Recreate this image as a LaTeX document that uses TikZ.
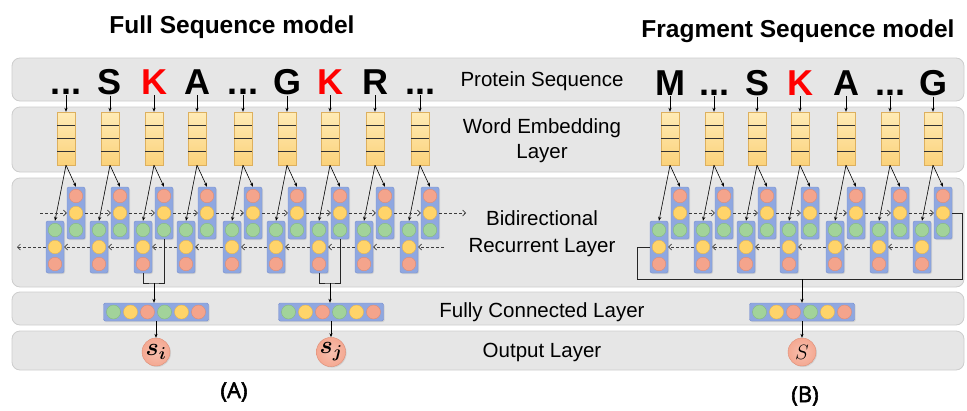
\documentclass[tikz,border=0pt]{standalone}
\usepackage{fontspec}
\setmainfont{Liberation Sans}
\newfontfamily\capfont[FakeBold=2.5]{Open Sans}
\usepackage{amsmath}
\usepackage{bm}
\usetikzlibrary{arrows.meta,shadows}
\definecolor{bandfill}{HTML}{E6E6E6}
\definecolor{bandline}{HTML}{CDCDCD}
\definecolor{embtop}{HTML}{FFEBB6}
\definecolor{embbot}{HTML}{FBD27A}
\definecolor{embline}{HTML}{DDB05E}
\definecolor{cellfill}{HTML}{8FA7E0}
\definecolor{cellline}{HTML}{7890CF}
\definecolor{redfill}{HTML}{F4A48C}
\definecolor{redline}{HTML}{DE8C74}
\definecolor{yelfill}{HTML}{FFD46A}
\definecolor{yelline}{HTML}{E7B64E}
\definecolor{grnfill}{HTML}{A2D39A}
\definecolor{grnline}{HTML}{85B97E}
\definecolor{dashcol}{HTML}{3C3C3C}
\definecolor{aared}{HTML}{FF0000}
\newcommand{\tdots}{...}
\begin{document}
\begin{tikzpicture}[x=1pt,y=-1pt,
  band/.style={draw=bandline, fill=bandfill, rounded corners=8pt, line width=0.8pt, minimum width=952pt, inner sep=0pt},
  lbl/.style={font=\fontsize{20.5}{24}\selectfont, align=center, text=black, inner sep=0pt},
  ttl/.style={font=\fontsize{24.5}{28}\selectfont\bfseries, anchor=base, inner sep=0pt},
  captxt/.style={font=\capfont\fontsize{22}{26}\selectfont, inner sep=0pt},
  aa/.style={font=\fontsize{36}{40}\selectfont\bfseries, anchor=base, inner sep=1pt},
  emb/.style={draw=embline, top color=embtop, bottom color=embbot, minimum width=18pt, minimum height=53pt, inner sep=0pt,
     drop shadow={opacity=0.2, shadow xshift=1pt, shadow yshift=-1pt}},
  embsep/.style={line width=0.8pt, draw=black!80},
  cellbox/.style={draw=cellline, fill=cellfill, rounded corners=2pt, minimum width=18pt, minimum height=52pt, inner sep=0pt,
     drop shadow={opacity=0.2, shadow xshift=1pt, shadow yshift=-1pt}},
  fcbox/.style={draw=cellline, fill=cellfill, rounded corners=1.5pt, minimum width=105pt, minimum height=18pt, inner sep=0pt,
     drop shadow={opacity=0.2, shadow xshift=1pt, shadow yshift=-1pt}},
  dotr/.style={circle, draw=redline, fill=redfill, minimum size=13.5pt, inner sep=0pt},
  doty/.style={circle, draw=yelline, fill=yelfill, minimum size=13.5pt, inner sep=0pt},
  dotg/.style={circle, draw=grnline, fill=grnfill, minimum size=13.5pt, inner sep=0pt},
  outc/.style={circle, draw=redline, inner color=redfill!70, outer color=redfill!100!black!95, minimum size=28pt, inner sep=0pt,
     drop shadow={opacity=0.2, shadow xshift=1pt, shadow yshift=-1pt}},
  arr/.style={-{Stealth[length=4pt,width=3.2pt]}, line width=0.6pt, draw=black},
  conn/.style={line width=0.8pt, draw=black!85},
  darr/.style={dash pattern=on 3pt off 2pt, -{Straight Barb[length=3pt,width=6pt]}, line width=0.7pt, draw=dashcol},
]
\useasboundingbox (0,0) rectangle (967,410);

% bands
\node[band, minimum height=43pt] (band1) at (488,79.5) {};
\node[band, minimum height=65pt] (band2) at (488,139.5) {};
\node[band, minimum height=109pt] (band3) at (488,232.5) {};
\node[band, minimum height=33pt] (band4) at (488,308.5) {};
\node[band, minimum height=39pt] (band5) at (488,350.5) {};

% titles and captions
\node[ttl] (t1) at (232,33) {Full Sequence model};
\node[ttl] (t2) at (798,37) {Fragment Sequence model};
\node[captxt] (capA) at (234,392) {(A)};
\node[captxt] (capB) at (805,396) {(B)};

% layer labels
\node[lbl] (l1) at (542,81) {Protein Sequence};
\node[lbl] (l2) at (542,141) {Word Embedding\\[1pt]Layer};
\node[lbl] (l3) at (542,233.5) {Bidirectional\\[3pt]Recurrent Layer};
\node[lbl] (l4) at (542,312) {Fully Connected Layer};
\node[lbl] (l5) at (542,352) {Output Layer};

% ---------- left (full sequence) ----------
\foreach \x/\ltr/\c [count=\i] in {66/\tdots/black,110/S/black,154/K/aared,197/A/black,243/\tdots/black,287/G/black,330/K/aared,375/R/black,420/\tdots/black}{
  \node[aa, text=\c] (sL\i) at (\x,94) {\ltr};
  \node[emb] (eL\i) at (\x,138.5) {};
  \draw[embsep] (\x-9,125.25) -- (\x+9,125.25) (\x-9,138.5) -- (\x+9,138.5) (\x-9,151.75) -- (\x+9,151.75);
  \node[cellbox] (uL\i) at (\x+10,213) {};
  \node[dotr] (uL\i a) at (\x+10,196) {};
  \node[doty] (uL\i b) at (\x+10,213) {};
  \node[dotg] (uL\i c) at (\x+10,230) {};
  \node[cellbox] (lL\i) at (\x-11,247) {};
  \node[dotg] (lL\i a) at (\x-11,230) {};
  \node[doty] (lL\i b) at (\x-11,247) {};
  \node[dotr] (lL\i c) at (\x-11,264) {};
  \draw[arr] (sL\i.south) -- (eL\i.north);
  \draw[arr] (eL\i.south) -- (uL\i.north);
  \draw[arr] (eL\i.south) -- (lL\i.north);
}
\coordinate (fwdL0) at (40,213);
\coordinate (fwdLe) at (466,213);
\coordinate (bwdL0) at (444,247);
\coordinate (bwdLe) at (17,247);
\draw[darr] (fwdL0) -- (uL1.west);
\foreach \i [evaluate=\i as \j using int(\i+1)] in {1,...,8}{
  \draw[darr] (uL\i.east) -- (uL\j.west);
  \draw[darr] (lL\j.west) -- (lL\i.east);
}
\draw[darr] (uL9.east) -- (fwdLe);
\draw[darr] (bwdL0) -- (lL9.east);
\draw[darr] (lL1.west) -- (bwdLe);

% fully connected + output (left)
\foreach \n/\x in {1/156,2/331}{
  \node[fcbox] (fc\n) at (\x,312) {};
  \foreach \k/\s in {1/dotg,2/doty,3/dotr,4/dotg,5/doty,6/dotr}{
    \node[\s, minimum size=14pt] (fc\n d\k) at (\x-59.5+17*\k,312) {};
  }
}
\node[outc] (o1) at (156,352) {\fontsize{25}{25}\selectfont$\bm{s_i}$};
\node[outc] (o2) at (331,352) {\fontsize{25}{25}\selectfont$\bm{s_j}$};

\coordinate (mA) at (154,283);
\coordinate (mB) at (330,283);
\draw[conn] (lL3.south) |- (mA) -| (uL3.south);
\draw[conn] (lL7.south) |- (mB) -| (uL7.south);
\draw[arr] (mA) -- (mA |- fc1.north);
\draw[arr] (mB) -- (mB |- fc2.north);
\draw[arr] (fc1.south) -- (o1.north);
\draw[arr] (fc2.south) -- (o2.north);

% ---------- right (fragment sequence) ----------
\foreach \x/\ltr/\c [count=\i] in {670/M/black,714/\tdots/black,757/S/black,800/K/aared,846/A/black,890/\tdots/black,933/G/black}{
  \node[aa, text=\c] (sR\i) at (\x,95) {\ltr};
  \node[emb] (eR\i) at (\x,138.5) {};
  \draw[embsep] (\x-9,125.25) -- (\x+9,125.25) (\x-9,138.5) -- (\x+9,138.5) (\x-9,151.75) -- (\x+9,151.75);
  \node[cellbox] (uR\i) at (\x+10,213) {};
  \node[dotr] (uR\i a) at (\x+10,196) {};
  \node[doty] (uR\i b) at (\x+10,213) {};
  \node[dotg] (uR\i c) at (\x+10,230) {};
  \node[cellbox] (lR\i) at (\x-11,247) {};
  \node[dotg] (lR\i a) at (\x-11,230) {};
  \node[doty] (lR\i b) at (\x-11,247) {};
  \node[dotr] (lR\i c) at (\x-11,264) {};
  \draw[arr] (sR\i.south) -- (eR\i.north);
  \draw[arr] (eR\i.south) -- (uR\i.north);
  \draw[arr] (eR\i.south) -- (lR\i.north);
}
\foreach \i [evaluate=\i as \j using int(\i+1)] in {1,...,6}{
  \draw[darr] (uR\i.east) -- (uR\j.west);
  \draw[darr] (lR\j.west) -- (lR\i.east);
}
\node[fcbox] (fc3) at (802,312) {};
\foreach \k/\s in {1/dotg,2/doty,3/dotr,4/dotg,5/doty,6/dotr}{
  \node[\s, minimum size=14pt] (fc3d\k) at (802-59.5+17*\k,312) {};
}
\node[outc] (o3) at (802,352) {\fontsize{21}{21}\selectfont$S$};

\coordinate (rC1) at (962,279);
\coordinate (rC2) at (637,279);
\coordinate (mC) at (802,279);
\draw[conn] (uR7.east) -| (rC1) -- (rC2) |- (lR1.west);
\draw[arr] (mC) -- (mC |- fc3.north);
\draw[arr] (fc3.south) -- (o3.north);
\end{tikzpicture}
\end{document}
